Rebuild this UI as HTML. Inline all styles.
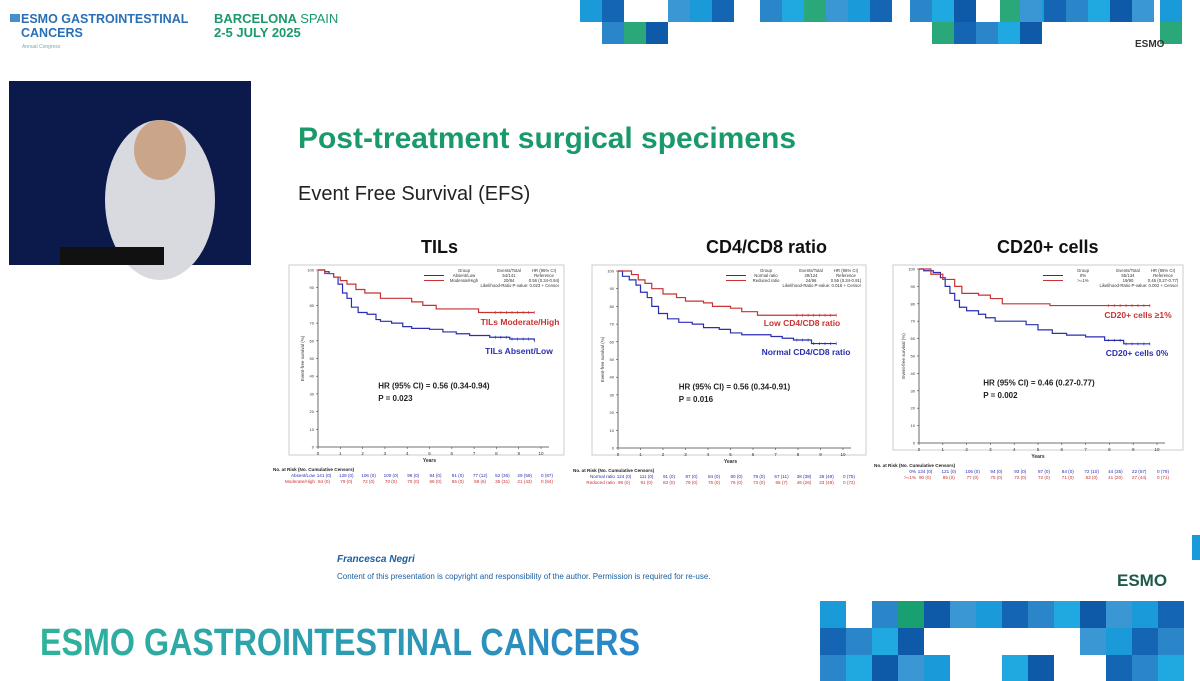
<!DOCTYPE html>
<html><head><meta charset="utf-8">
<style>
html,body{margin:0;padding:0;width:1200px;height:681px;overflow:hidden;background:#fff;font-family:"Liberation Sans",sans-serif}
svg{position:absolute;left:0;top:0}
</style></head>
<body>
<svg id="page" width="1200" height="681" viewBox="0 0 1200 681">
  <rect x="10" y="14" width="10" height="8" fill="#4a90c8"/>
  <text x="21" y="23" font-size="12.5" font-weight="bold" fill="#2a6fb5">ESMO GASTROINTESTINAL</text>
  <text x="21" y="37" font-size="12.5" font-weight="bold" fill="#2a6fb5">CANCERS</text>
  <text x="22" y="48" font-size="5" fill="#7aa">Annual Congress</text>
  <text x="214" y="23" font-size="13" font-weight="bold" fill="#1a9a6a">BARCELONA <tspan font-weight="normal">SPAIN</tspan></text>
  <text x="214" y="37" font-size="13" font-weight="bold" fill="#1a9a6a">2-5 JULY 2025</text>
  <g id="topdeco"></g>
  <g id="botdeco"></g>
  <text x="1135" y="47" font-size="10" font-weight="bold" fill="#333">ESMO</text>

  <rect x="9" y="81" width="242" height="184" fill="#0b1a4a"/>
  <ellipse cx="160" cy="200" rx="55" ry="80" fill="#d9d9e0"/>
  <ellipse cx="160" cy="150" rx="26" ry="30" fill="#caa58a"/>
  <rect x="60" y="247" width="104" height="18" fill="#111"/>

  <text x="298" y="148" font-size="30" font-weight="bold" fill="#1a9a6a" textLength="498">Post-treatment surgical specimens</text>
  <text x="298" y="200" font-size="20" fill="#222">Event Free Survival (EFS)</text>
  <text x="421" y="253" font-size="18" font-weight="bold" fill="#111" text-anchor="start">TILs</text>
  <text x="706" y="253" font-size="18" font-weight="bold" fill="#111">CD4/CD8 ratio</text>
  <text x="997" y="253" font-size="18" font-weight="bold" fill="#111">CD20+ cells</text>
  <g id="charts"></g>

  <text x="337" y="562" font-size="10" font-style="italic" font-weight="bold" fill="#1a5fa0">Francesca Negri</text>
  <text x="337" y="579" font-size="8" fill="#1a5fa0">Content of this presentation is copyright and responsibility of the author. Permission is required for re-use.</text>
  <text x="1117" y="586" font-size="17" font-weight="bold" fill="#1d5a4a">ESMO</text>
  <defs><linearGradient id="bg1" x1="0" x2="1"><stop offset="0" stop-color="#2fb39a"/><stop offset="1" stop-color="#2a86c8"/></linearGradient></defs>
  <text x="40" y="655" font-size="38" font-weight="bold" fill="url(#bg1)" textLength="600" lengthAdjust="spacingAndGlyphs">ESMO GASTROINTESTINAL CANCERS</text>
</svg>
<script>
const NS='http://www.w3.org/2000/svg';
function mk(tag,attrs,parent){const e=document.createElementNS(NS,tag);for(const k in attrs)e.setAttribute(k,attrs[k]);if(parent)parent.appendChild(e);return e;}

const xTicks=[0,1,2,3,4,5,6,7,8,9,10];
const yTicks=[0,10,20,30,40,50,60,70,80,90,100];
const tilsLowT=[0,0.3,0.5,0.7,0.9,1.1,1.3,1.5,1.8,2.2,2.6,2.8,3.3,3.8,4.2,5.0,5.6,6.2,6.8,7.7,8.6,9.7];
const tilsLowS=[100,99,98,96,92,87,84,79,76,75,72,71,70,68,67,66.5,65,64,63,62,61,60];
const tilsHighT=[0,0.3,0.7,1.0,1.3,1.7,2.1,2.8,4.2,4.7,5.3,7.2,9.7];
const tilsHighS=[100,98,96,94,92,89,87,84,82,80,78,76,76];
const cdNormT=[0,0.2,0.5,0.8,1.0,1.3,1.5,1.8,2.2,2.7,3.3,3.8,4.5,5.0,5.5,6.8,7.3,7.8,8.6,9.7];
const cdNormS=[100,97,95,92,88,85,80,76,73,71,70,68,67,65,64,63,62,61,59,59];
const cdRedT=[0,0.6,0.9,1.2,1.5,2.0,2.6,3.0,3.8,4.2,5.0,5.5,6.2,9.7];
const cdRedS=[100,98,95,93,90,87,85,83,82,80,79,77,75,75];
const cd20ZeroT=[0,0.2,0.6,0.9,1.1,1.3,1.5,1.7,2.0,2.5,2.8,3.2,3.8,4.5,5.0,5.6,6.2,7.0,7.8,8.6,9.7];
const cd20ZeroS=[100,99,98,95,90,86,82,78,76,74,72,70,70,68,65,63,62,61,59,57,57];
const cd20PosT=[0,0.5,1.0,1.5,1.8,2.5,3.0,3.5,5.5,9.7];
const cd20PosS=[100,97,94,90,86,85,83,80,79,79];
const tilsRiskLow=['141 (0)','128 (0)','106 (0)','100 (0)','96 (0)','94 (0)','91 (0)','77 (12)','52 (36)','29 (59)','0 (87)'];
const tilsRiskHigh=['84 (0)','79 (0)','72 (0)','70 (0)','70 (0)','66 (0)','65 (0)','59 (6)','35 (31)','21 (43)','0 (64)'];
const cdRiskNorm=['124 (0)','111 (0)','91 (0)','87 (0)','84 (0)','80 (0)','79 (0)','67 (11)','38 (38)','26 (49)','0 (75)'];
const cdRiskRed=['96 (0)','91 (0)','83 (0)','79 (0)','76 (0)','76 (0)','73 (0)','65 (7)','46 (26)','23 (49)','0 (72)'];
const cd20RiskZero=['134 (0)','121 (0)','106 (0)','94 (0)','93 (0)','87 (0)','84 (0)','72 (10)','44 (35)','22 (57)','0 (79)'];
const cd20RiskPos=['90 (0)','85 (0)','77 (0)','75 (0)','72 (0)','72 (0)','71 (0)','63 (0)','41 (20)','27 (44)','0 (71)'];

const BLUE='#2a2fb0', RED='#c83232';
const charts=[
 {id:'tils',box:[289,265,275,190],x0:318,x1:541,y0:447,y1:270,
  s:[[tilsLowT,tilsLowS,BLUE],[tilsHighT,tilsHighS,RED]],
  names:['Absent/Low','Moderate/High'],ev:['54/141','20/84'],hr:['Reference','0.56 (0.34-0.94)'],p:'0.023',
  lab:[['TILs Moderate/High',RED,520,325],['TILs Absent/Low',BLUE,519,354]],
  hrTxt:'HR (95% CI) = 0.56 (0.34-0.94)',pTxt:'P = 0.023',risk:[tilsRiskLow,tilsRiskHigh],rn:['Absent/Low','Moderate/High']},
 {id:'cd4cd8',box:[592,265,274,190],x0:618,x1:843,y0:448,y1:271,
  s:[[cdNormT,cdNormS,BLUE],[cdRedT,cdRedS,RED]],
  names:['Normal ratio','Reduced ratio'],ev:['49/124','24/96'],hr:['Reference','0.56 (0.34-0.91)'],p:'0.016',
  lab:[['Low CD4/CD8 ratio',RED,802,326],['Normal CD4/CD8 ratio',BLUE,806,355]],
  hrTxt:'HR (95% CI) = 0.56 (0.34-0.91)',pTxt:'P = 0.016',risk:[cdRiskNorm,cdRiskRed],rn:['Normal ratio','Reduced ratio']},
 {id:'cd20',box:[893,265,290,185],x0:919,x1:1157,y0:443,y1:269,
  s:[[cd20ZeroT,cd20ZeroS,BLUE],[cd20PosT,cd20PosS,RED]],
  names:['0%','>=1%'],ev:['55/134','19/90'],hr:['Reference','0.46 (0.27-0.77)'],p:'0.002',
  lab:[['CD20+ cells \u22651%',RED,1138,318],['CD20+ cells 0%',BLUE,1137,356]],
  hrTxt:'HR (95% CI) = 0.46 (0.27-0.77)',pTxt:'P = 0.002',risk:[cd20RiskZero,cd20RiskPos],rn:['0%','>=1%']}
];
const root=document.getElementById('charts');
charts.forEach(c=>{
  const g=mk('g',{},root);
  
  
  const X=t=>c.x0+(c.x1-c.x0)*t/10, Y=v=>c.y0+(c.y1-c.y0)*v/100;
  const fr=mk('rect',{x:c.box[0],y:c.box[1],width:c.box[2],height:c.box[3],fill:'none',stroke:'#ccc','stroke-width':1},g);
  
  
  const ax=mk('path',{d:`M${c.x0} ${Y(100)}V${c.y0}H${X(10)+8}`,stroke:'#444','stroke-width':0.8,fill:'none'},g);
  
  
  xTicks.forEach(t=>{
    mk('line',{x1:X(t),x2:X(t),y1:c.y0,y2:c.y0+2,stroke:'#444','stroke-width':0.6},g);
    const tx=mk('text',{x:X(t),y:c.y0+8,'font-size':4.5,'text-anchor':'middle',fill:'#333'},g);tx.textContent=t;
    
    
  });
  yTicks.forEach(v=>{
    mk('line',{x1:c.x0-2,x2:c.x0,y1:Y(v),y2:Y(v),stroke:'#444','stroke-width':0.6},g);
    const tx=mk('text',{x:c.x0-4,y:Y(v)+1.5,'font-size':4,'text-anchor':'end',fill:'#333'},g);tx.textContent=v;
    
    
  });
  const xt=mk('text',{x:(c.x0+c.x1)/2,y:c.y0+15,'font-size':5,'font-weight':'bold','text-anchor':'middle',fill:'#333'},g);xt.textContent='Years';
  
  
  const ym=(c.y0+c.y1)/2;
  const yt=mk('text',{x:c.x0-14,y:ym,'font-size':4.5,'text-anchor':'middle',fill:'#333',transform:`rotate(-90 ${c.x0-14} ${ym})`},g);yt.textContent='Event-free survival (%)';
  
  
  c.s.forEach((s,i)=>{
    const [T,S,col]=s;let d=`M${X(T[0])} ${Y(S[0])}`;
    for(let k=1;k<T.length;k++){d+=`H${X(T[k])}V${Y(S[k])}`;}
    const p=mk('path',{d,stroke:col,'stroke-width':1.2,fill:'none'},g);
    
    
    for(let k=0;k<8;k++){const tt=T[T.length-1]-k*0.25;let v=S[0];for(let j=0;j<T.length;j++)if(T[j]<=tt)v=S[j];
      mk('line',{x1:X(tt),x2:X(tt),y1:Y(v)-1.5,y2:Y(v)+1.5,stroke:col,'stroke-width':0.6},g);}
  });
  const lx=c.box[0]+c.box[2]-140, ly=c.box[1]+7;
  const lg=mk('g',{'font-size':4.3,fill:'#333'},g);
  
  
  [['Group',40],['Events/Total',85],['HR (95% CI)',120]].forEach(h=>{const t=mk('text',{x:lx+h[1],y:ly,'text-anchor':'middle'},lg);t.textContent=h[0];});
  [0,1].forEach(i=>{
    mk('line',{x1:lx,x2:lx+20,y1:ly+5*(i+1)-1.5,y2:ly+5*(i+1)-1.5,stroke:i?RED:BLUE,'stroke-width':1},lg);
    [[c.names[i],40],[c.ev[i],85],[c.hr[i],120]].forEach(h=>{const t=mk('text',{x:lx+h[1],y:ly+5*(i+1),'text-anchor':'middle'},lg);t.textContent=h[0];});
  });
  const lp=mk('text',{x:lx+135,y:ly+15,'text-anchor':'end'},lg);lp.textContent='Likelihood-Ratio P-value: '+c.p+'   + Censor';
  c.lab.forEach((l,i)=>{const t=mk('text',{x:l[2],y:l[3],'font-size':8.5,'font-weight':'bold',fill:l[1],'text-anchor':'middle'},g);t.textContent=l[0];
    
    });
  const hx=X(2.7);
  const h1=mk('text',{x:hx,y:Y(33),'font-size':8,'font-weight':'bold',fill:'#222'},g);h1.textContent=c.hrTxt;
  
  
  const h2=mk('text',{x:hx,y:Y(26),'font-size':8,'font-weight':'bold',fill:'#222'},g);h2.textContent=c.pTxt;
  
  
  const rt=mk('g',{'font-size':4.6},g);
  
  
  const ty=c.y0+24;
  const hd=mk('text',{x:c.x0-45,y:ty,'font-weight':'bold',fill:'#222'},rt);hd.textContent='No. at Risk (No. Cumulative Censors)';
  c.risk.forEach((row,i)=>{
    const col=i?RED:BLUE;
    const n=mk('text',{x:c.x0-3,y:ty+6+i*6,'text-anchor':'end',fill:col},rt);n.textContent=c.rn[i];
    row.forEach((v,k)=>{const t=mk('text',{x:X(k)+6,y:ty+6+i*6,'text-anchor':'middle',fill:col},rt);t.textContent=v;});
  });
});

const pal=['#1a9ad8','#1565b5','#2a86c8','#1fa9e0','#0f5aa8','#3a97d3'];
const td=document.getElementById('topdeco');
const topCells=[[580,0],[602,0],[602,22],[624,22],[646,22],[668,0],[690,0],[712,0],[760,0],[782,0],[804,0],[826,0],[848,0],[870,0],[910,0],[932,0],[954,0],[1000,0],[1022,0],[1044,0],[1066,0],[1088,0],[1110,0],[1132,0],[932,22],[954,22],[976,22],[998,22],[1020,22],[1020,0],[1160,0],[1160,22]];
topCells.forEach((p,i)=>{mk('rect',{x:p[0],y:p[1],width:22,height:22,fill:i%7==3?'#2aa87a':pal[i%pal.length]},td);});
const bd=document.getElementById('botdeco');
for(let r=0;r<3;r++)for(let k=0;k<14;k++){
  const x=820+k*26,y=601+r*27;
  if(r==0&&k==1)continue; if(r==1&&(k>=4&&k<=9))continue; if(r==2&&(k==5||k==6||k==9||k==10))continue;
  mk('rect',{x,y,width:26,height:27,fill:(r==0&&k==3)?'#18a070':pal[(k+r)%pal.length]},bd);
}
mk('rect',{x:1192,y:535,width:8,height:25,fill:'#1a9ad8'},bd);
</script>
</body></html>
